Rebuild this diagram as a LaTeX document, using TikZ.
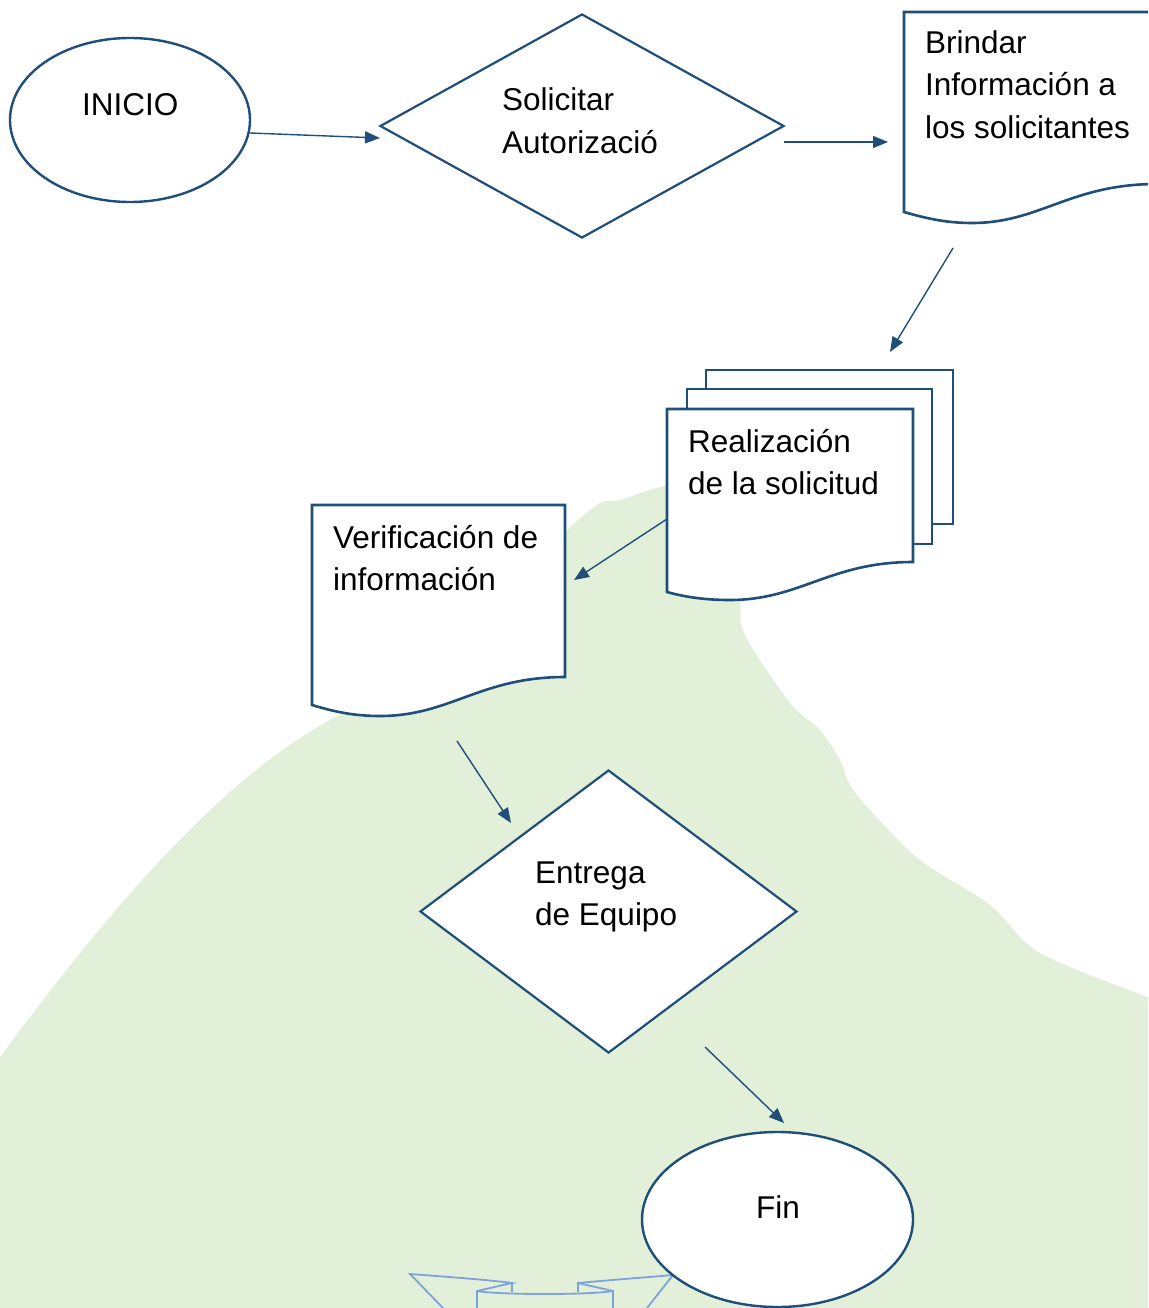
\documentclass[tikz,border=0pt]{standalone}
\usepackage{fontspec}
\setmainfont{Liberation Sans}
\usetikzlibrary{shapes.geometric,arrows.meta}
\definecolor{dblue}{RGB}{31,78,121}
\definecolor{lgreen}{RGB}{226,240,217}
\definecolor{rblue}{RGB}{125,163,222}
\begin{document}
\begin{tikzpicture}[x=1pt,y=-1pt,
  shapeline/.style={draw=dblue, line width=2.6pt, fill=white},
  diam/.style={shape=diamond, draw=dblue, line width=2.2pt, fill=white, inner sep=0pt},
  ell/.style={shape=ellipse, draw=dblue, line width=2.4pt, fill=white, inner sep=0pt},
  conn/.style={draw=dblue, line width=1.4pt, -{Triangle[length=15pt,width=12pt]}},
  lbl/.style={anchor=base west, inner sep=0pt, font=\fontsize{31.5}{38}\selectfont, text=black},
  ribbon/.style={draw=rblue, line width=1.8pt},
]
\clip (0,0) rectangle (1148,1308);
\fill[white] (0,0) rectangle (1148,1308);
% green background
\fill[lgreen] (0,1308) -- (0,1057) .. controls (120,895) and (230,770) .. (343,713)
  -- plot[smooth, tension=0.55] coordinates {(343,713) (450,640) (540,560) (567,530) (600,503) (620,500) (660,487) (700,482) (730,520) (740,600) (745,635) (790,703) (820,730) (840,760) (850,785) (870,810) (920,860) (990,905) (1040,953) (1148,997)} -- (1148,1308) -- cycle;

% ribbon
\draw[ribbon] (443,1308) -- (410,1274) .. controls (450,1277) and (490,1280) .. (512,1283) -- (477,1291) -- (477,1312);
\draw[ribbon] (512,1283) -- (512,1292);
\draw[ribbon] (477,1291) .. controls (500,1295) and (590,1295) .. (613,1291);
\draw[ribbon] (613,1312) -- (613,1291) -- (578,1283) -- (578,1292);
\draw[ribbon] (578,1283) .. controls (610,1280) and (650,1277) .. (673,1275) -- (647,1308);

% INICIO
\node[ell, minimum width=240pt, minimum height=164pt] (inicio) at (130,120) {};
\node[lbl] (tinicio) at (82,116) {INICIO};

% Solicitar
\node[diam, minimum width=404pt, minimum height=224pt] (solic) at (582,126) {};
\node[lbl] (tsol1) at (502,111) {Solicitar};
\node[lbl] (tsol2) at (502,154) {Autorizació};

% Brindar document
\draw[shapeline] (904,212) -- (904,12) -- (1157,12) -- (1157,184) .. controls (1070,184) and (1040,223) .. (972,223) .. controls (945,223) and (925,218) .. (904,212) -- cycle;
\node[lbl] (tbr1) at (925,54) {Brindar};
\node[lbl] (tbr2) at (925,96) {Información a};
\node[lbl] (tbr3) at (925,139) {los solicitantes};

% Realizacion multi-document
\draw[shapeline] (706,389) -- (706,370) -- (953,370) -- (953,524) -- (932,524);
\draw[shapeline] (687,409) -- (687,389) -- (932,389) -- (932,544) -- (913,544);
\draw[shapeline] (667,592) -- (667,409) -- (913,409) -- (913,562) .. controls (830,562) and (800,600) .. (730,600) .. controls (705,600) and (685,597) .. (667,592) -- cycle;
\node[lbl] (tre1) at (688,452) {Realización};
\node[lbl] (tre2) at (688,494) {de la solicitud};

% Verificacion document
\draw[shapeline] (312,705) -- (312,505) -- (565,505) -- (565,677) .. controls (480,677) and (450,716) .. (380,716) .. controls (352,716) and (332,711) .. (312,705) -- cycle;
\node[lbl] (tve1) at (333,548) {Verificación de};
\node[lbl] (tve2) at (333,590) {información};

% Entrega
\node[diam, minimum width=377pt, minimum height=283pt] (entrega) at (608.5,911.5) {};
\node[lbl] (ten1) at (535,883) {Entrega};
\node[lbl] (ten2) at (535,925) {de Equipo};

% Fin
\node[ell, minimum width=271pt, minimum height=175pt] (fin) at (777.5,1219.5) {};
\node[lbl] (tfin) at (756,1218) {Fin};

% connector end points
\coordinate (a1s) at (250,133);
\coordinate (a1e) at (380,138);
\coordinate (a2s) at (784,142);
\coordinate (a2e) at (888,142);
\coordinate (a3s) at (953,248);
\coordinate (a3e) at (890,352);
\coordinate (a4s) at (667,519);
\coordinate (a4e) at (574,580);
\coordinate (a5s) at (457,741);
\coordinate (a5e) at (511,823);
\coordinate (a6s) at (705,1047);
\coordinate (a6e) at (784,1123);

\draw[conn] (a1s) -- (a1e);
\draw[conn] (a2s) -- (a2e);
\draw[conn] (a3s) -- (a3e);
\draw[conn] (a4s) -- (a4e);
\draw[conn] (a5s) -- (a5e);
\draw[conn] (a6s) -- (a6e);
\end{tikzpicture}
\end{document}
